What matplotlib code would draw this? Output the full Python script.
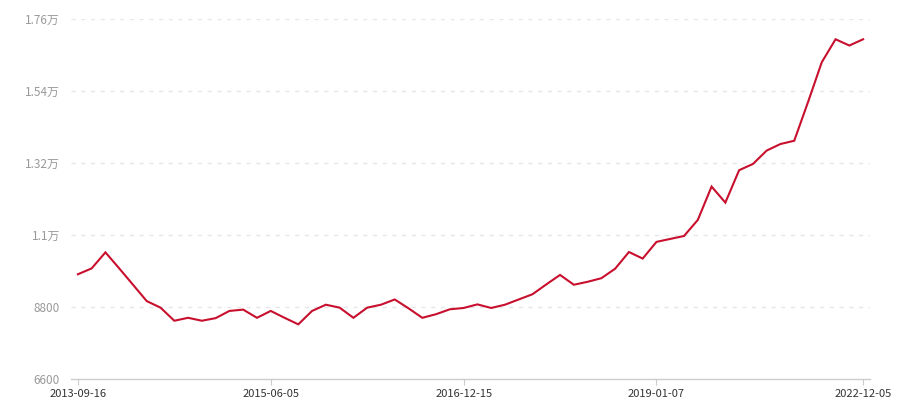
import matplotlib
matplotlib.use("Agg")
import matplotlib.pyplot as plt

plt.rcParams['font.family'] = ['Noto Sans CJK SC', 'DejaVu Sans']

# wartości (58 punktów, oś kategorii)
wartosci = [9800, 9980, 10470, 9980, 9480, 8980, 8780, 8380, 8470, 8380,
            8460, 8680, 8720, 8470, 8680, 8470, 8270, 8680, 8870, 8780,
            8470, 8780, 8870, 9030, 8760, 8470, 8580, 8730, 8770, 8880,
            8770, 8870, 9030, 9190, 9490, 9780, 9480, 9570, 9680, 9970,
            10480, 10280, 10790, 10880, 10970, 11460, 12480, 11990, 12980, 13170,
            13580, 13780, 13880, 15060, 16280, 16980, 16790, 16980]

x_ticki = [0, 14, 28, 42, 57]
x_etykiety = ['2013-09-16', '2015-06-05', '2016-12-15', '2019-01-07', '2022-12-05']
y_ticki = [6600, 8800, 11000, 13200, 15400, 17600]
y_etykiety = ['6600', '8800', '1.1万', '1.32万', '1.54万', '1.76万']

fig = plt.figure(figsize=(9, 4), dpi=100)
ax = fig.add_axes([71/900, 1-379/400, (870-71)/900, 360/400])

x = list(range(len(wartosci)))
ax.plot(x, wartosci, color='#c8102e', lw=1.5, solid_joinstyle='miter', zorder=3)

ax.set_xlim(-0.5, len(wartosci) - 0.5)
ax.set_ylim(6600, 17600)

ax.set_yticks(y_ticki)
ax.set_yticklabels(y_etykiety, color='#999999', fontsize=8.5)
ax.set_xticks(x_ticki)
ax.set_xticklabels(x_etykiety, color='#333333', fontsize=8)

ax.tick_params(axis='y', length=0, pad=8)
ax.tick_params(axis='x', length=4, color='#cccccc', pad=3)

for yy in y_ticki[1:]:
    ax.axhline(yy, color='#e6e6e6', lw=1, ls=(0, (3, 4)), zorder=1)

for s in ['top', 'right', 'left']:
    ax.spines[s].set_visible(False)
ax.spines['bottom'].set_color('#cccccc')
ax.spines['bottom'].set_linewidth(1)

fig.savefig('out.png', dpi=100)
